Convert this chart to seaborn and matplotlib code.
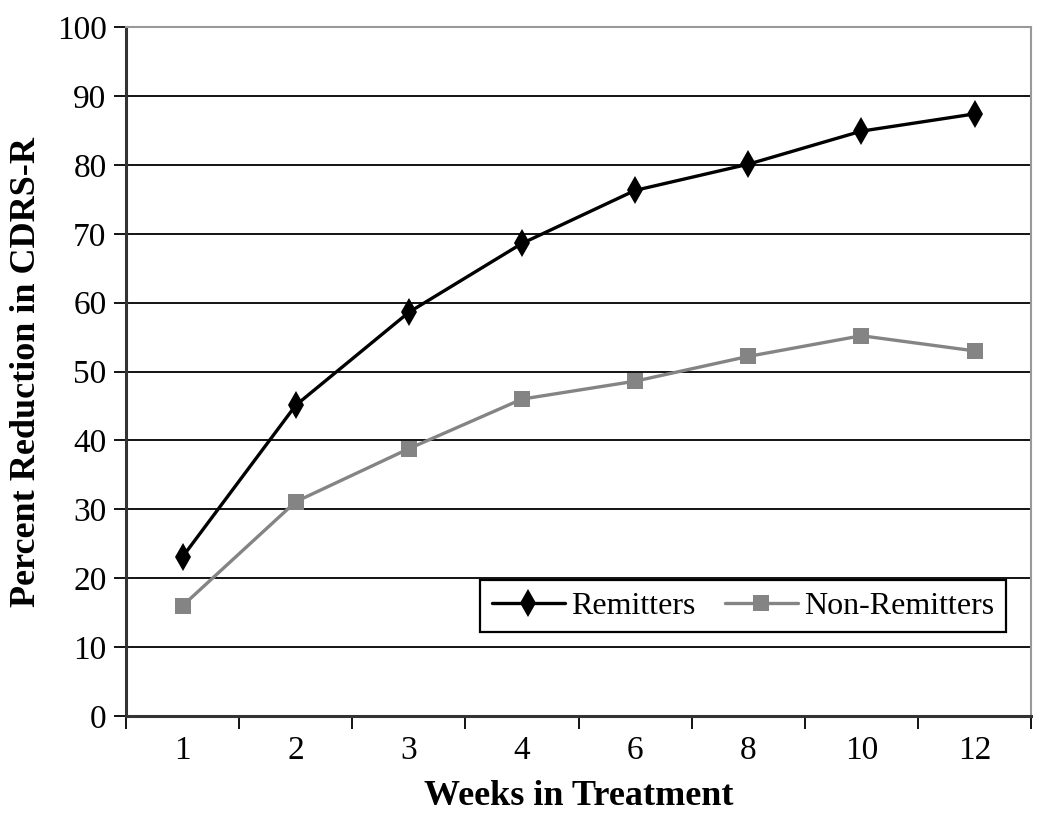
import pandas as pd
import matplotlib
matplotlib.use("Agg")
import matplotlib.pyplot as plt
import seaborn as sns
from matplotlib.ticker import FixedLocator, MultipleLocator

# Data
weeks = ["1", "2", "3", "4", "6", "8", "10", "12"]
remitters = [23.1, 45.1, 58.6, 68.6, 76.3, 80.1, 84.9, 87.4]
non_remitters = [16.0, 31.1, 38.8, 46.0, 48.6, 52.2, 55.2, 53.0]

df = pd.DataFrame({
    "week": weeks * 2,
    "reduction": remitters + non_remitters,
    "group": ["Remitters"] * len(weeks) + ["Non-Remitters"] * len(weeks),
})

sns.set_style("white")
plt.rcParams["font.family"] = ["Liberation Serif", "DejaVu Serif"]
plt.rcParams["text.color"] = "black"
plt.rcParams["axes.labelcolor"] = "black"
plt.rcParams["xtick.color"] = "black"
plt.rcParams["ytick.color"] = "black"

fig = plt.figure(figsize=(10.5, 8.22), dpi=100)
ax = fig.add_axes([0.12, 0.129, 0.862, 0.838])

ax.yaxis.grid(True, color="black", linewidth=1.3)
ax.set_axisbelow(True)

sns.lineplot(data=df, x="week", y="reduction", hue="group", style="group",
             palette={"Remitters": "black", "Non-Remitters": "#848484"},
             markers={"Remitters": "D", "Non-Remitters": "s"},
             dashes=False, linewidth=2.4, markersize=12, markeredgewidth=0,
             ax=ax, sort=False)

# thinner diamonds like the original
for line in ax.get_lines():
    if line.get_marker() == "D":
        line.set_marker("d")
        line.set_markersize(14)

ax.set_xlim(-0.5, len(weeks) - 0.5)
ax.set_ylim(0, 100)
ax.yaxis.set_major_locator(MultipleLocator(10))

# ticks at category boundaries, labels centred
ax.xaxis.set_minor_locator(FixedLocator([i - 0.5 for i in range(len(weeks) + 1)]))
ax.tick_params(axis="x", which="major", length=0, pad=14, labelsize=24)
ax.tick_params(axis="x", which="minor", length=9, width=1.3, color="black",
               direction="out", bottom=True)
ax.tick_params(axis="y", which="major", length=9, width=1.3, color="black",
               direction="out", left=True, labelsize=24, pad=5)

for side in ["left", "bottom"]:
    ax.spines[side].set_color("#333333")
    ax.spines[side].set_linewidth(2.2)
for side in ["top", "right"]:
    ax.spines[side].set_color("#999999")
    ax.spines[side].set_linewidth(1.5)

ax.set_xlabel("Weeks in Treatment", fontsize=26, fontweight="bold", labelpad=10)
ax.set_ylabel("Percent Reduction in CDRS-R", fontsize=26, fontweight="bold",
              labelpad=10)

handles, labels = ax.get_legend_handles_labels()
leg = ax.legend(handles, labels, ncol=2, loc="lower right",
                bbox_to_anchor=(0.972, 0.122), borderaxespad=0,
                fontsize=23, frameon=True, fancybox=False, framealpha=1,
                edgecolor="black", handlelength=2.3, columnspacing=0.9,
                handletextpad=0.2, borderpad=0.35)
leg.get_frame().set_linewidth(1.6)

fig.savefig("out.png", dpi=100)
